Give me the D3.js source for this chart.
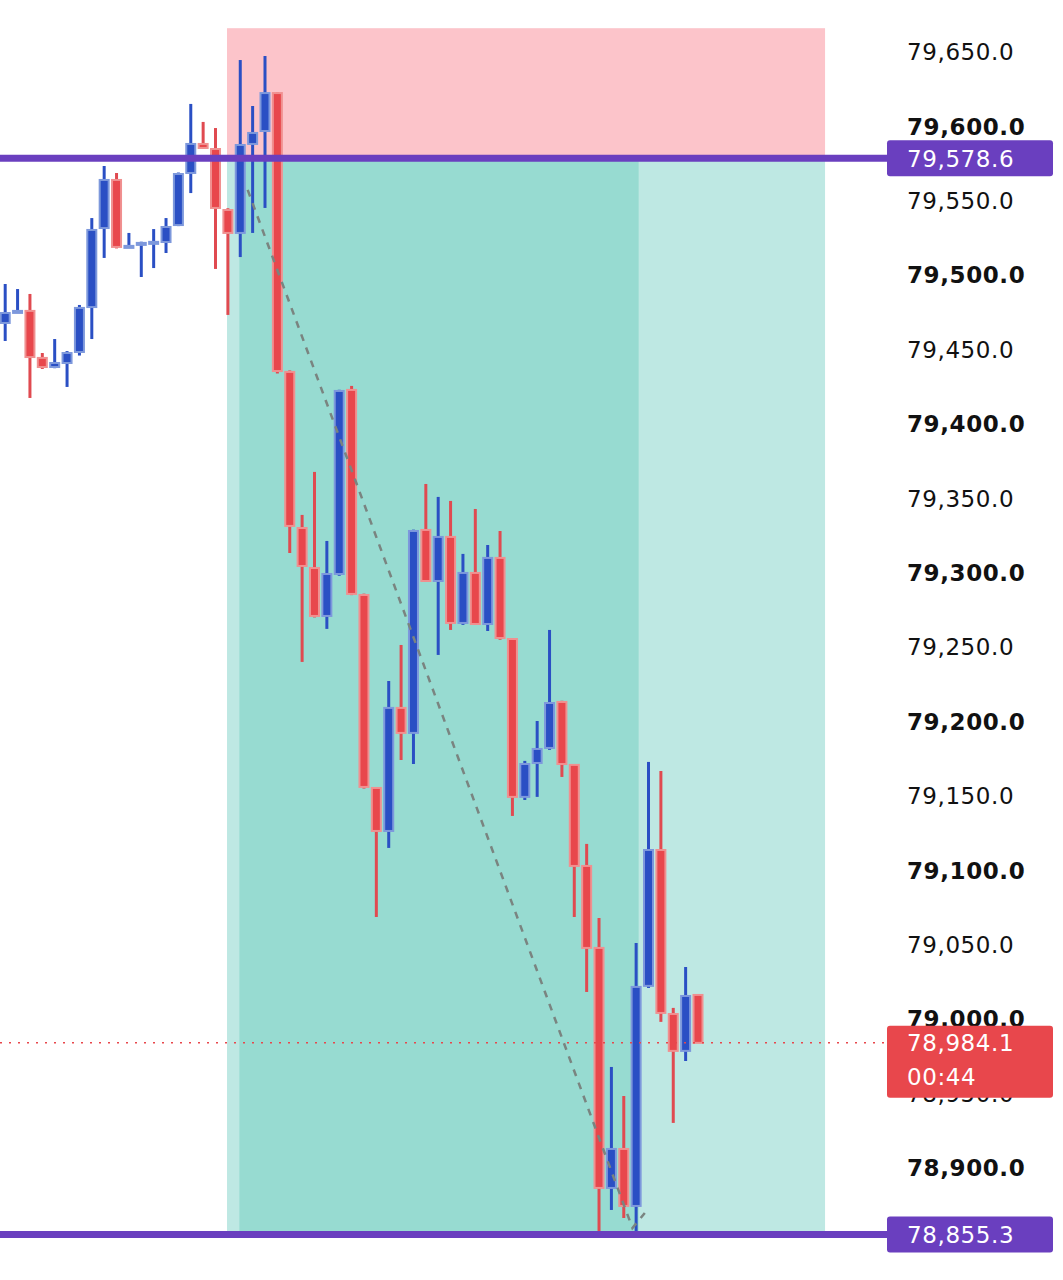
<!DOCTYPE html>
<html>
<head>
<meta charset="utf-8">
<script src="https://cdn.jsdelivr.net/npm/d3@7"></script>
<style>
body { margin: 0; background: #fff; }
</style>
</head>
<body>
<div id="chart"></div>
<script>
// candles: [open, high, low, close]
const candles = [
	[79467.9, 79494.1, 79455.8, 79474.6], [79475.3, 79490.7, 79475.0, 79476.0],
	[79476.0, 79487.4, 79417.5, 79445.0], [79444.4, 79447.7, 79437.0, 79438.3],
	[79438.3, 79457.1, 79437.5, 79441.0], [79441.0, 79449.0, 79424.9, 79447.7],
	[79448.4, 79480.0, 79446.0, 79478.0], [79478.6, 79538.4, 79457.1, 79530.4],
	[79531.7, 79573.4, 79511.6, 79564.0], [79564.0, 79568.7, 79518.0, 79519.0],
	[79519.0, 79528.4, 79518.5, 79519.7], [79520.4, 79522.5, 79498.8, 79521.7],
	[79521.7, 79531.0, 79504.8, 79522.4], [79522.3, 79538.4, 79514.9, 79532.4],
	[79533.7, 79569.0, 79533.0, 79568.0], [79568.7, 79615.1, 79555.2, 79588.2],
	[79588.2, 79603.0, 79585.0, 79585.5], [79584.8, 79598.9, 79504.2, 79545.2],
	[79543.8, 79545.0, 79473.3, 79528.4], [79528.4, 79644.6, 79512.2, 79587.5],
	[79588.2, 79613.7, 79528.4, 79595.6], [79596.9, 79647.3, 79545.2, 79622.4],
	[79622.4, 79623.0, 79434.0, 79435.6], [79435.0, 79436.0, 79313.3, 79331.5],
	[79330.1, 79338.9, 79240.1, 79304.6], [79303.2, 79367.8, 79270.0, 79271.0],
	[79271.0, 79321.4, 79262.3, 79299.2], [79299.2, 79423.0, 79298.0, 79422.2],
	[79422.9, 79425.6, 79285.0, 79285.8], [79285.1, 79286.0, 79155.0, 79156.1],
	[79155.4, 79156.0, 79068.7, 79126.5], [79126.5, 79227.3, 79115.1, 79209.2],
	[79209.2, 79251.5, 79174.2, 79192.4], [79192.4, 79329.0, 79171.5, 79328.1],
	[79328.8, 79359.7, 79294.0, 79294.5], [79294.5, 79351.0, 79244.8, 79324.1],
	[79324.1, 79348.3, 79261.6, 79266.3], [79266.3, 79312.7, 79265.0, 79299.9],
	[79299.9, 79342.9, 79265.0, 79265.6], [79265.6, 79318.7, 79260.9, 79310.0],
	[79310.0, 79328.1, 79255.0, 79256.2], [79255.5, 79256.0, 79136.6, 79149.4],
	[79149.4, 79173.6, 79147.3, 79171.5], [79172.2, 79200.4, 79149.4, 79181.6],
	[79182.3, 79261.6, 79181.0, 79212.5], [79213.2, 79214.0, 79162.8, 79171.5],
	[79170.9, 79171.5, 79068.7, 79103.0], [79103.0, 79117.8, 79018.3, 79047.9],
	[79047.9, 79068.0, 78857.0, 78886.6], [78886.6, 78967.9, 78871.8, 78912.8],
	[78912.8, 78948.4, 78866.4, 78874.5], [78874.5, 79051.2, 78855.3, 79021.7],
	[79022.4, 79172.9, 79021.0, 79113.7], [79113.7, 79166.8, 78998.2, 79004.2],
	[79003.5, 79007.6, 78930.3, 78978.7], [78978.7, 79035.1, 78971.9, 79015.6],
	[79016.3, 79016.5, 78984.0, 78984.1]
]

const priceTicks = [79650, 79600, 79550, 79500, 79450, 79400, 79350, 79300, 79250, 79200, 79150, 79100, 79050, 79000, 78950, 78900]

// short position tool
const entryPrice = 79578.6
const stopPrice = 79666
const targetPrice = 78855.3
const toolStart = 17.93
const toolEnd = 66.27
const toolFillEnd = 51.2

// dashed projection path: [index, price]
const projection = [[19.6, 79557.3], [50.7, 78859.7], [51.7, 78869.8]]

const lastPrice = 78984.1
const countdown = '00:44'

const width = 1063, height = 1280
const fmt = d3.format(',.1f')

const x = d3.scaleLinear().domain([0, 56]).range([5.2, 698])
const y = d3.scaleLinear().domain([79650, 78900]).range([52, 1168])

const svg = d3.select('#chart').append('svg')
	.attr('width', width)
	.attr('height', height)
	.style('font-family', '"DejaVu Sans", sans-serif')

// position tool
svg.append('rect')
	.attr('x', x(toolStart)).attr('y', y(stopPrice))
	.attr('width', x(toolEnd) - x(toolStart)).attr('height', y(entryPrice) - y(stopPrice))
	.attr('fill', '#fcc4ca')
svg.append('rect')
	.attr('x', x(toolStart)).attr('y', y(entryPrice))
	.attr('width', x(toolEnd) - x(toolStart)).attr('height', y(targetPrice) - y(entryPrice))
	.attr('fill', '#bee8e3')
svg.append('rect')
	.attr('x', x(toolStart + 1)).attr('y', y(entryPrice))
	.attr('width', x(toolFillEnd) - x(toolStart + 1)).attr('height', y(targetPrice) - y(entryPrice))
	.attr('fill', '#97dbd1')

// candles
const cw = 9
const g = svg.append('g')
g.selectAll('line.wick')
	.data(candles)
	.enter()
	.append('line')
	.attr('x1', (d, i) => x(i)).attr('x2', (d, i) => x(i))
	.attr('y1', d => y(d[1])).attr('y2', d => y(d[2]))
	.attr('stroke', d => d[3] >= d[0] ? '#2a4fc4' : '#e04a50')
	.attr('stroke-width', 3)
g.selectAll('rect.body')
	.data(candles)
	.enter()
	.append('rect')
	.attr('x', (d, i) => x(i) - cw / 2)
	.attr('y', d => y(Math.max(d[0], d[3])))
	.attr('width', cw)
	.attr('height', d => Math.max(2, Math.abs(y(d[0]) - y(d[3]))))
	.attr('fill', d => d[3] >= d[0] ? '#2a4fc4' : '#e8474c')
	.attr('stroke', d => d[3] >= d[0] ? '#7d98dc' : '#f09090')
	.attr('stroke-width', 2)

// projection
svg.append('path')
	.attr('d', d3.line().x(d => x(d[0])).y(d => y(d[1]))(projection))
	.attr('fill', 'none')
	.attr('stroke', '#7a8480')
	.attr('stroke-width', 2.5)
	.attr('stroke-dasharray', '7,7')

// entry / target lines
;[entryPrice, targetPrice].forEach(p => {
	svg.append('line')
		.attr('x1', 0).attr('x2', 887)
		.attr('y1', y(p)).attr('y2', y(p))
		.attr('stroke', '#6a3fbf').attr('stroke-width', 7)
})

// last price line
svg.append('line')
	.attr('x1', 0).attr('x2', 887)
	.attr('y1', y(lastPrice)).attr('y2', y(lastPrice))
	.attr('stroke', '#e8474c').attr('stroke-width', 1.5)
	.attr('stroke-dasharray', '2,7')

// price axis labels
svg.selectAll('text.tick')
	.data(priceTicks)
	.enter()
	.append('text')
	.attr('x', 907)
	.attr('y', d => y(d))
	.attr('dy', '0.36em')
	.attr('font-size', 23)
	.attr('letter-spacing', 0.6)
	.attr('font-weight', d => d % 100 === 0 ? 700 : 400)
	.attr('fill', '#111')
	.text(d => fmt(d))

// price labels
;[entryPrice, targetPrice].forEach(p => {
	svg.append('rect')
		.attr('x', 887).attr('y', y(p) - 18)
		.attr('width', 166).attr('height', 36).attr('rx', 3)
		.attr('fill', '#6a3fbf')
	svg.append('text')
		.attr('x', 907).attr('y', y(p)).attr('dy', '0.36em')
		.attr('font-size', 23).attr('letter-spacing', 0.6).attr('fill', '#fff')
		.text(fmt(p))
})

svg.append('rect')
	.attr('x', 887).attr('y', y(lastPrice) - 17)
	.attr('width', 166).attr('height', 72).attr('rx', 3)
	.attr('fill', '#e8474c')
svg.append('text')
	.attr('x', 907).attr('y', y(lastPrice)).attr('dy', '0.36em')
	.attr('font-size', 23).attr('letter-spacing', 0.6).attr('fill', '#fff')
	.text(fmt(lastPrice))
svg.append('text')
	.attr('x', 907).attr('y', y(lastPrice) + 34).attr('dy', '0.36em')
	.attr('font-size', 23).attr('letter-spacing', 0.6).attr('fill', '#fff')
	.text(countdown)
</script>
</body>
</html>
